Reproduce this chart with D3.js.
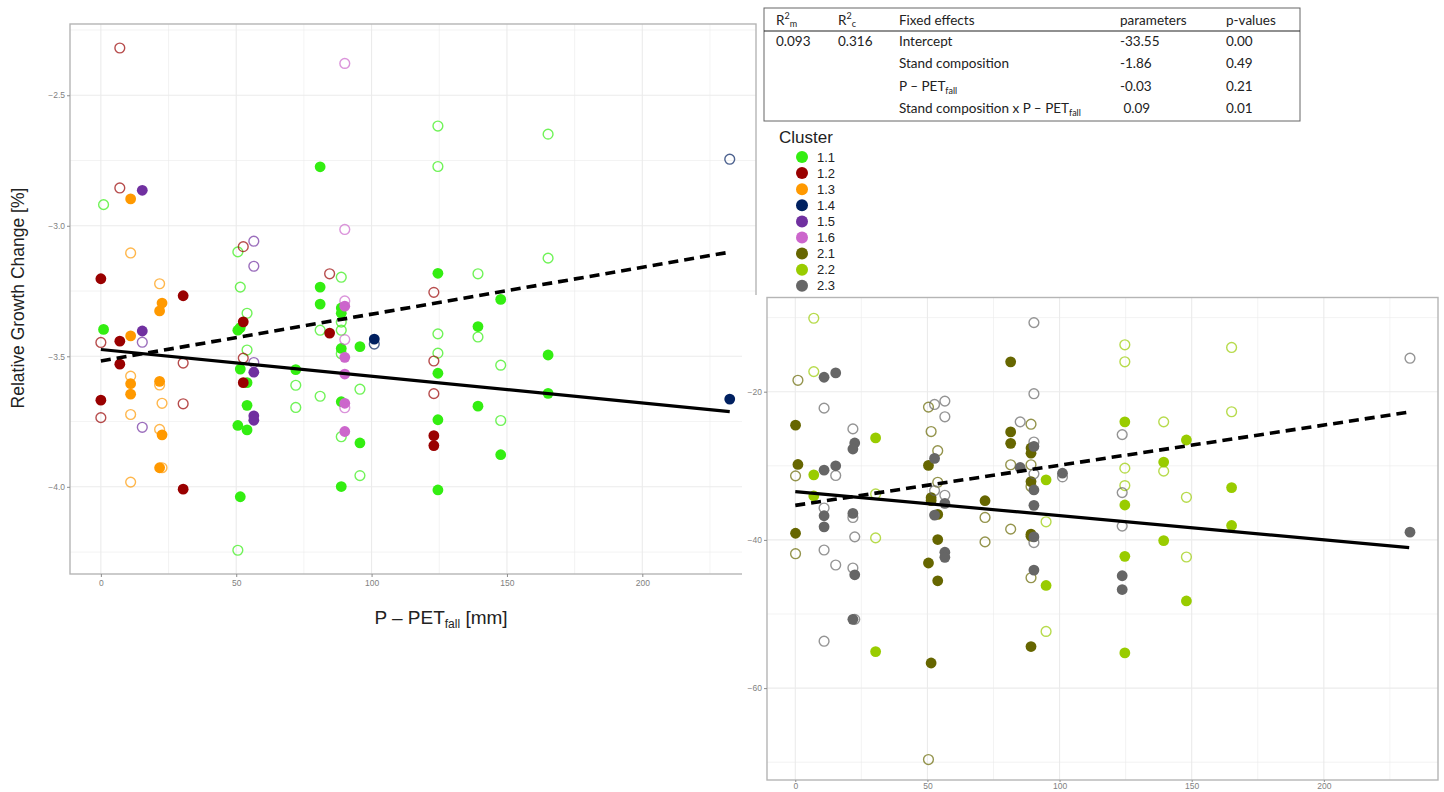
<!DOCTYPE html>
<html>
<head>
<meta charset="utf-8">
<script src="https://cdn.jsdelivr.net/npm/d3@7"></script>
<style>
  body { margin: 0; background: #fff; }
  svg { display: block; font-family: "Liberation Sans", Arial, sans-serif; }
  .tick text { fill: #7f7f7f; font-size: 8.5px; }
  .tick line { stroke: #8c8c8c; }
  .tbl text { font-family: Lato, "Open Sans", sans-serif; font-size: 13.5px; fill: #222; }
</style>
</head>
<body>
<script>
// clusters and their colours
var clusters = ["1.1", "1.2", "1.3", "1.4", "1.5", "1.6", "2.1", "2.2", "2.3"];
var clusterColors = ["#33ee11", "#990000", "#ff9900", "#002060", "#7030a0", "#cc66cc", "#666600", "#99cc00", "#666666"];

// left panel points: [P-PET fall, growth change, filled?]
var pts11 = [
  [1,-3.397,1],[50.6,-3.400,1],[51.5,-3.39,1],[51.5,-3.549,1],[72,-3.551,1],[54,-3.601,1],[54,-3.688,1],
  [50.6,-3.765,1],[54,-3.782,1],[51.5,-4.038,1],[81,-2.774,1],[124.5,-3.182,1],[81,-3.235,1],[81,-3.300,1],
  [88.8,-3.315,1],[147.7,-3.282,1],[88.8,-3.335,1],[139.3,-3.386,1],[95.7,-3.463,1],[88.8,-3.470,1],
  [124.5,-3.565,1],[139.3,-3.691,1],[88.8,-3.674,1],[124.5,-3.743,1],[95.7,-3.832,1],[147.7,-3.877,1],
  [88.8,-3.999,1],[124.5,-4.012,1],[165.2,-3.495,1],[165.2,-3.642,1],
  [1,-2.919,0],[50.6,-3.100,0],[51.5,-3.235,0],[54,-3.335,0],[54,-3.476,0],[72,-3.611,0],[72,-3.696,0],
  [50.6,-4.243,0],[124.5,-2.618,0],[124.5,-2.773,0],[88.8,-3.197,0],[139.3,-3.184,0],[88.8,-3.369,0],
  [81,-3.400,0],[88.8,-3.400,0],[139.3,-3.426,0],[124.5,-3.414,0],[88.8,-3.49,0],[124.5,-3.488,0],
  [147.7,-3.534,0],[81,-3.653,0],[95.7,-3.626,0],[147.7,-3.746,0],[88.8,-3.808,0],[95.7,-3.957,0],
  [165.2,-2.649,0],[165.2,-3.124,0]
];
var pts12 = [
  [0,-3.203,1],[30.4,-3.268,1],[52.6,-3.368,1],[7,-3.442,1],[7,-3.530,1],[52.6,-3.601,1],[0,-3.668,1],
  [30.4,-4.009,1],[84.5,-3.411,1],[123,-3.804,1],[123,-3.842,1],
  [7,-2.319,0],[7,-2.855,0],[52.6,-3.080,0],[0,-3.447,0],[52.6,-3.507,0],[30.4,-3.526,0],[30.4,-3.682,0],
  [0,-3.735,0],[84.5,-3.184,0],[123,-3.255,0],[123,-3.518,0],[123,-3.643,0]
];
var pts13 = [
  [11,-2.897,1],[22.6,-3.296,1],[21.7,-3.326,1],[11,-3.422,1],[11,-3.605,1],[21.7,-3.596,1],[11,-3.645,1],
  [22.6,-3.801,1],[21.7,-3.927,1],
  [11,-3.104,0],[21.7,-3.222,0],[11,-3.576,0],[21.7,-3.61,0],[22.6,-3.680,0],[11,-3.723,0],[21.7,-3.780,0],
  [22.6,-3.927,0],[11,-3.982,0]
];
var pts14 = [[101,-3.434,1],[232.3,-3.664,1],[101,-3.453,0],[232.3,-2.745,0]];
var pts15 = [
  [15.3,-2.864,1],[15.3,-3.403,1],[56.5,-3.561,1],[56.5,-3.728,1],[56.5,-3.745,1],
  [56.5,-3.059,0],[56.5,-3.155,0],[15.3,-3.446,0],[56.5,-3.524,0],[15.3,-3.772,0]
];
var pts16 = [
  [90.1,-3.308,1],[90.1,-3.504,1],[90.1,-3.568,1],[90.1,-3.68,1],[90.1,-3.788,1],
  [90.1,-2.378,0],[90.1,-3.014,0],[90.1,-3.288,0],[90.1,-3.436,0],[90.1,-3.697,0]
];

// right panel points
var pts21 = [
  [0.1,-24.52,1],[1,-29.82,1],[50.4,-29.95,1],[51.4,-34.30,1],[51.4,-34.7,1],[71.8,-34.71,1],[53.9,-36.56,1],
  [0.1,-39.10,1],[53.9,-39.95,1],[50.4,-43.12,1],[53.9,-45.52,1],[51.4,-56.61,1],[81.5,-15.97,1],
  [81.5,-25.43,1],[81.5,-26.97,1],[89.2,-27.6,1],[89.2,-28.3,1],[89.2,-32.13,1],[89.2,-39.23,1],
  [89.2,-39.5,1],[89.2,-54.39,1],
  [1,-18.46,0],[50.4,-22.08,0],[51.4,-25.38,0],[53.9,-27.96,0],[0.1,-31.36,0],[53.9,-32.22,0],
  [71.8,-36.97,0],[71.8,-40.27,0],[0.1,-41.86,0],[50.4,-69.64,0],[89.2,-24.39,0],[81.5,-29.86,0],
  [89.2,-29.86,0],[89.2,-32.8,0],[81.5,-38.55,0],[89.2,-45.11,0]
];
var pts22 = [
  [30.4,-26.24,1],[7,-31.22,1],[7,-34.07,1],[30.4,-55.07,1],[124.7,-24.07,1],[148,-26.52,1],[139.4,-29.5,1],
  [94.9,-31.9,1],[124.7,-35.29,1],[139.4,-40.09,1],[124.7,-42.22,1],[94.9,-46.15,1],[148,-48.24,1],
  [124.7,-55.25,1],[165.1,-32.94,1],[165.1,-38.05,1],
  [7,-10.09,0],[7,-17.29,0],[30.4,-33.80,0],[30.4,-39.73,0],[124.7,-13.67,0],[124.7,-15.97,0],
  [139.4,-24.07,0],[124.7,-30.32,0],[139.4,-30.72,0],[124.7,-32.67,0],[148,-34.25,0],[94.9,-37.56,0],
  [148,-42.31,0],[94.9,-52.35,0],[165.1,-14.03,0],[165.1,-22.71,0]
];
var pts23 = [
  [10.9,-18.05,1],[15.3,-17.47,1],[22.5,-26.92,1],[21.8,-27.74,1],[52.7,-29.00,1],[10.9,-30.59,1],
  [15.3,-30.00,1],[56.6,-35.07,1],[10.9,-36.74,1],[21.8,-36.43,1],[52.7,-36.65,1],[10.9,-38.24,1],
  [56.6,-41.67,1],[56.6,-42.35,1],[22.5,-44.71,1],[21.8,-50.72,1],[90.3,-27.38,1],[85.1,-30.23,1],
  [101.1,-31.0,1],[90.3,-33.26,1],[90.3,-35.34,1],[90.3,-39.6,1],[90.3,-44.07,1],[123.7,-44.84,1],
  [123.7,-46.7,1],[232.6,-38.96,1],
  [10.9,-22.22,0],[52.7,-21.72,0],[56.6,-21.27,0],[56.6,-23.39,0],[21.8,-25.02,0],[15.3,-31.31,0],
  [52.7,-33.35,0],[56.6,-33.98,0],[10.9,-35.70,0],[21.8,-36.97,0],[22.5,-39.59,0],[10.9,-41.36,0],
  [15.3,-43.39,0],[21.8,-43.80,0],[22.5,-50.72,0],[10.9,-53.67,0],[90.3,-10.68,0],[90.3,-20.27,0],
  [85.1,-24.07,0],[123.7,-25.79,0],[90.3,-26.79,0],[90.3,-31.09,0],[101.1,-31.5,0],[123.7,-33.62,0],
  [123.7,-38.14,0],[90.3,-40.36,0],[232.6,-15.48,0]
];

// fitted lines (end points)
var leftSolid = [[0,-3.474],[232.3,-3.712]];
var leftDashed = [[0,-3.518],[232.3,-3.101]];
var rightSolid = [[0,-33.48],[232.3,-41.04]];
var rightDashed = [[0,-35.34],[232.3,-22.76]];

// ticks
var xTicks = [0, 50, 100, 150, 200];
var leftYTicks = [-4.0, -3.5, -3.0, -2.5];
var rightYTicks = [-60, -40, -20];

// model table
var tableHeader = ["R2m", "R2c", "Fixed effects", "parameters", "p-values"];
var r2m = "0.093", r2c = "0.316";
var effects = ["Intercept", "Stand composition", "P – PET|fall", "Stand composition x P – PET|fall"];
var params = ["-33.55", "-1.86", "-0.03", " 0.09"];
var pvals = ["0.00", "0.49", "0.21", "0.01"];

var color = d3.scaleOrdinal().domain(clusters).range(clusterColors);

var svg = d3.select("body").append("svg")
  .attr("width", 1444).attr("height", 792);

function drawPanel(box, xDom, yDom, xGrid, yGrid, yTicks, yFmt, series, fits, xPad) {
  var g = svg.append("g");
  var x = d3.scaleLinear().domain(xDom).range([box.x0, box.x1]);
  var y = d3.scaleLinear().domain(yDom).range([box.y1, box.y0]);

  // grid
  g.selectAll(".vg").data(xGrid).enter().append("line")
    .attr("x1", d => x(d)).attr("x2", d => x(d))
    .attr("y1", box.y0).attr("y2", box.y1)
    .attr("stroke", "#ebebeb").attr("stroke-width", d => d % 50 === 0 ? 1.1 : 0.6);
  g.selectAll(".hg").data(yGrid).enter().append("line")
    .attr("y1", d => y(d)).attr("y2", d => y(d))
    .attr("x1", box.x0).attr("x2", box.x1)
    .attr("stroke", "#ebebeb").attr("stroke-width", d => yTicks.indexOf(d) >= 0 ? 1.1 : 0.6);

  // points
  series.forEach(function (s) {
    g.append("g").selectAll("circle").data(s.pts).enter().append("circle")
      .attr("cx", d => x(d[0])).attr("cy", d => y(d[1])).attr("r", d => d[2] ? 5.4 : 4.9)
      .attr("fill", d => d[2] ? color(s.cluster) : "none")
      .attr("stroke", color(s.cluster))
      .attr("stroke-opacity", d => d[2] ? 1 : 0.7)
      .attr("stroke-width", d => d[2] ? 0 : 1.4);
  });

  // fitted lines
  var line = d3.line().x(d => x(d[0])).y(d => y(d[1]));
  g.append("path").attr("d", line(fits[0])).attr("fill", "none")
    .attr("stroke", "#000").attr("stroke-width", 3.2);
  g.append("path").attr("d", line(fits[1])).attr("fill", "none")
    .attr("stroke", "#000").attr("stroke-width", 3.6).attr("stroke-dasharray", "10,6");

  // border
  g.append("rect").attr("x", box.x0).attr("y", box.y0)
    .attr("width", box.x1 - box.x0).attr("height", box.y1 - box.y0)
    .attr("fill", "none").attr("stroke", "#b5b5b5").attr("stroke-width", 1.4);

  // axes
  var ax = g.append("g").attr("transform", "translate(0," + box.y1 + ")")
    .call(d3.axisBottom(x).tickValues(xTicks).tickSize(xPad[0]).tickPadding(xPad[1]));
  ax.select(".domain").remove();
  var ay = g.append("g").attr("transform", "translate(" + box.x0 + ",0)")
    .call(d3.axisLeft(y).tickValues(yTicks).tickFormat(yFmt).tickSize(3).tickPadding(2));
  ay.select(".domain").remove();
  return g;
}

// left panel
drawPanel({ x0: 70, x1: 756, y0: 24, y1: 574 }, [-11.4, 242], [-4.334, -2.227],
  d3.range(0, 226, 25), d3.range(-4.25, -2.24, 0.25).map(d => +d.toFixed(2)),
  leftYTicks, d3.format(".1f"),
  [{ cluster: "1.1", pts: pts11 }, { cluster: "1.2", pts: pts12 }, { cluster: "1.3", pts: pts13 },
   { cluster: "1.4", pts: pts14 }, { cluster: "1.5", pts: pts15 }, { cluster: "1.6", pts: pts16 }],
  [leftSolid, leftDashed], [3, 3]);

// axis titles
svg.append("text").attr("transform", "translate(24,298) rotate(-90)")
  .attr("text-anchor", "middle").attr("font-size", 17.5).attr("fill", "#222")
  .text("Relative Growth Change [%]");
var xl = svg.append("text").attr("x", 441).attr("y", 624).attr("text-anchor", "middle")
  .attr("font-size", 19).attr("fill", "#222");
xl.append("tspan").text("P – PET");
xl.append("tspan").attr("font-size", 12).attr("dy", 4).text("fall");
xl.append("tspan").attr("dy", -4).text(" [mm]");

// right figure sits on a white sheet over the left one
svg.append("rect").attr("x", 742).attr("y", 295).attr("width", 702).attr("height", 497).attr("fill", "#fff");
drawPanel({ x0: 767, x1: 1438, y0: 297.5, y1: 780 }, [-10.7, 243.2], [-72.4, -7.29],
  d3.range(0, 226, 25), d3.range(-70, -9, 10),
  rightYTicks, d3.format("d"),
  [{ cluster: "2.1", pts: pts21 }, { cluster: "2.2", pts: pts22 }, { cluster: "2.3", pts: pts23 }],
  [rightSolid, rightDashed], [2, 1]);

// legend
var lg = svg.append("g");
lg.append("text").attr("x", 779).attr("y", 143).attr("font-size", 17).attr("fill", "#222").text("Cluster");
var li = lg.selectAll(".li").data(clusters).enter().append("g")
  .attr("transform", (d, i) => "translate(802," + (157 + i * 16.1) + ")");
li.append("circle").attr("r", 6).attr("fill", d => color(d));
li.append("text").attr("x", 15).attr("y", 4.5).attr("font-size", 13).attr("fill", "#222").text(d => d);

// table
var tb = svg.append("g").attr("class", "tbl");
tb.append("rect").attr("x", 764).attr("y", 8).attr("width", 536).attr("height", 113)
  .attr("fill", "#fff").attr("stroke", "#666").attr("stroke-width", 1);
tb.append("line").attr("x1", 764).attr("x2", 1300).attr("y1", 31).attr("y2", 31)
  .attr("stroke", "#222").attr("stroke-width", 1.2);
var colX = [776, 838, 899, 1120, 1226];
var rowY = [46, 68, 91, 113];

function richText(sel, s) {
  var parts = s.split("|");
  sel.append("tspan").text(parts[0]);
  if (parts[1]) sel.append("tspan").attr("font-size", 9).attr("dy", 3).text(parts[1]);
}
tableHeader.forEach(function (h, i) {
  var t = tb.append("text").attr("x", colX[i]).attr("y", 25);
  if (i < 2) {
    t.append("tspan").text("R");
    t.append("tspan").attr("font-size", 9).attr("dy", -6).text("2");
    t.append("tspan").attr("font-size", 9).attr("dy", 8).text(h[2]);
  } else {
    t.text(h);
  }
});
tb.append("text").attr("x", colX[0]).attr("y", rowY[0]).text(r2m);
tb.append("text").attr("x", colX[1]).attr("y", rowY[0]).text(r2c);
effects.forEach(function (e, i) {
  richText(tb.append("text").attr("x", colX[2]).attr("y", rowY[i]), e);
  tb.append("text").attr("x", colX[3]).attr("y", rowY[i]).attr("xml:space", "preserve").text(params[i]);
  tb.append("text").attr("x", colX[4]).attr("y", rowY[i]).text(pvals[i]);
});
</script>
</body>
</html>
